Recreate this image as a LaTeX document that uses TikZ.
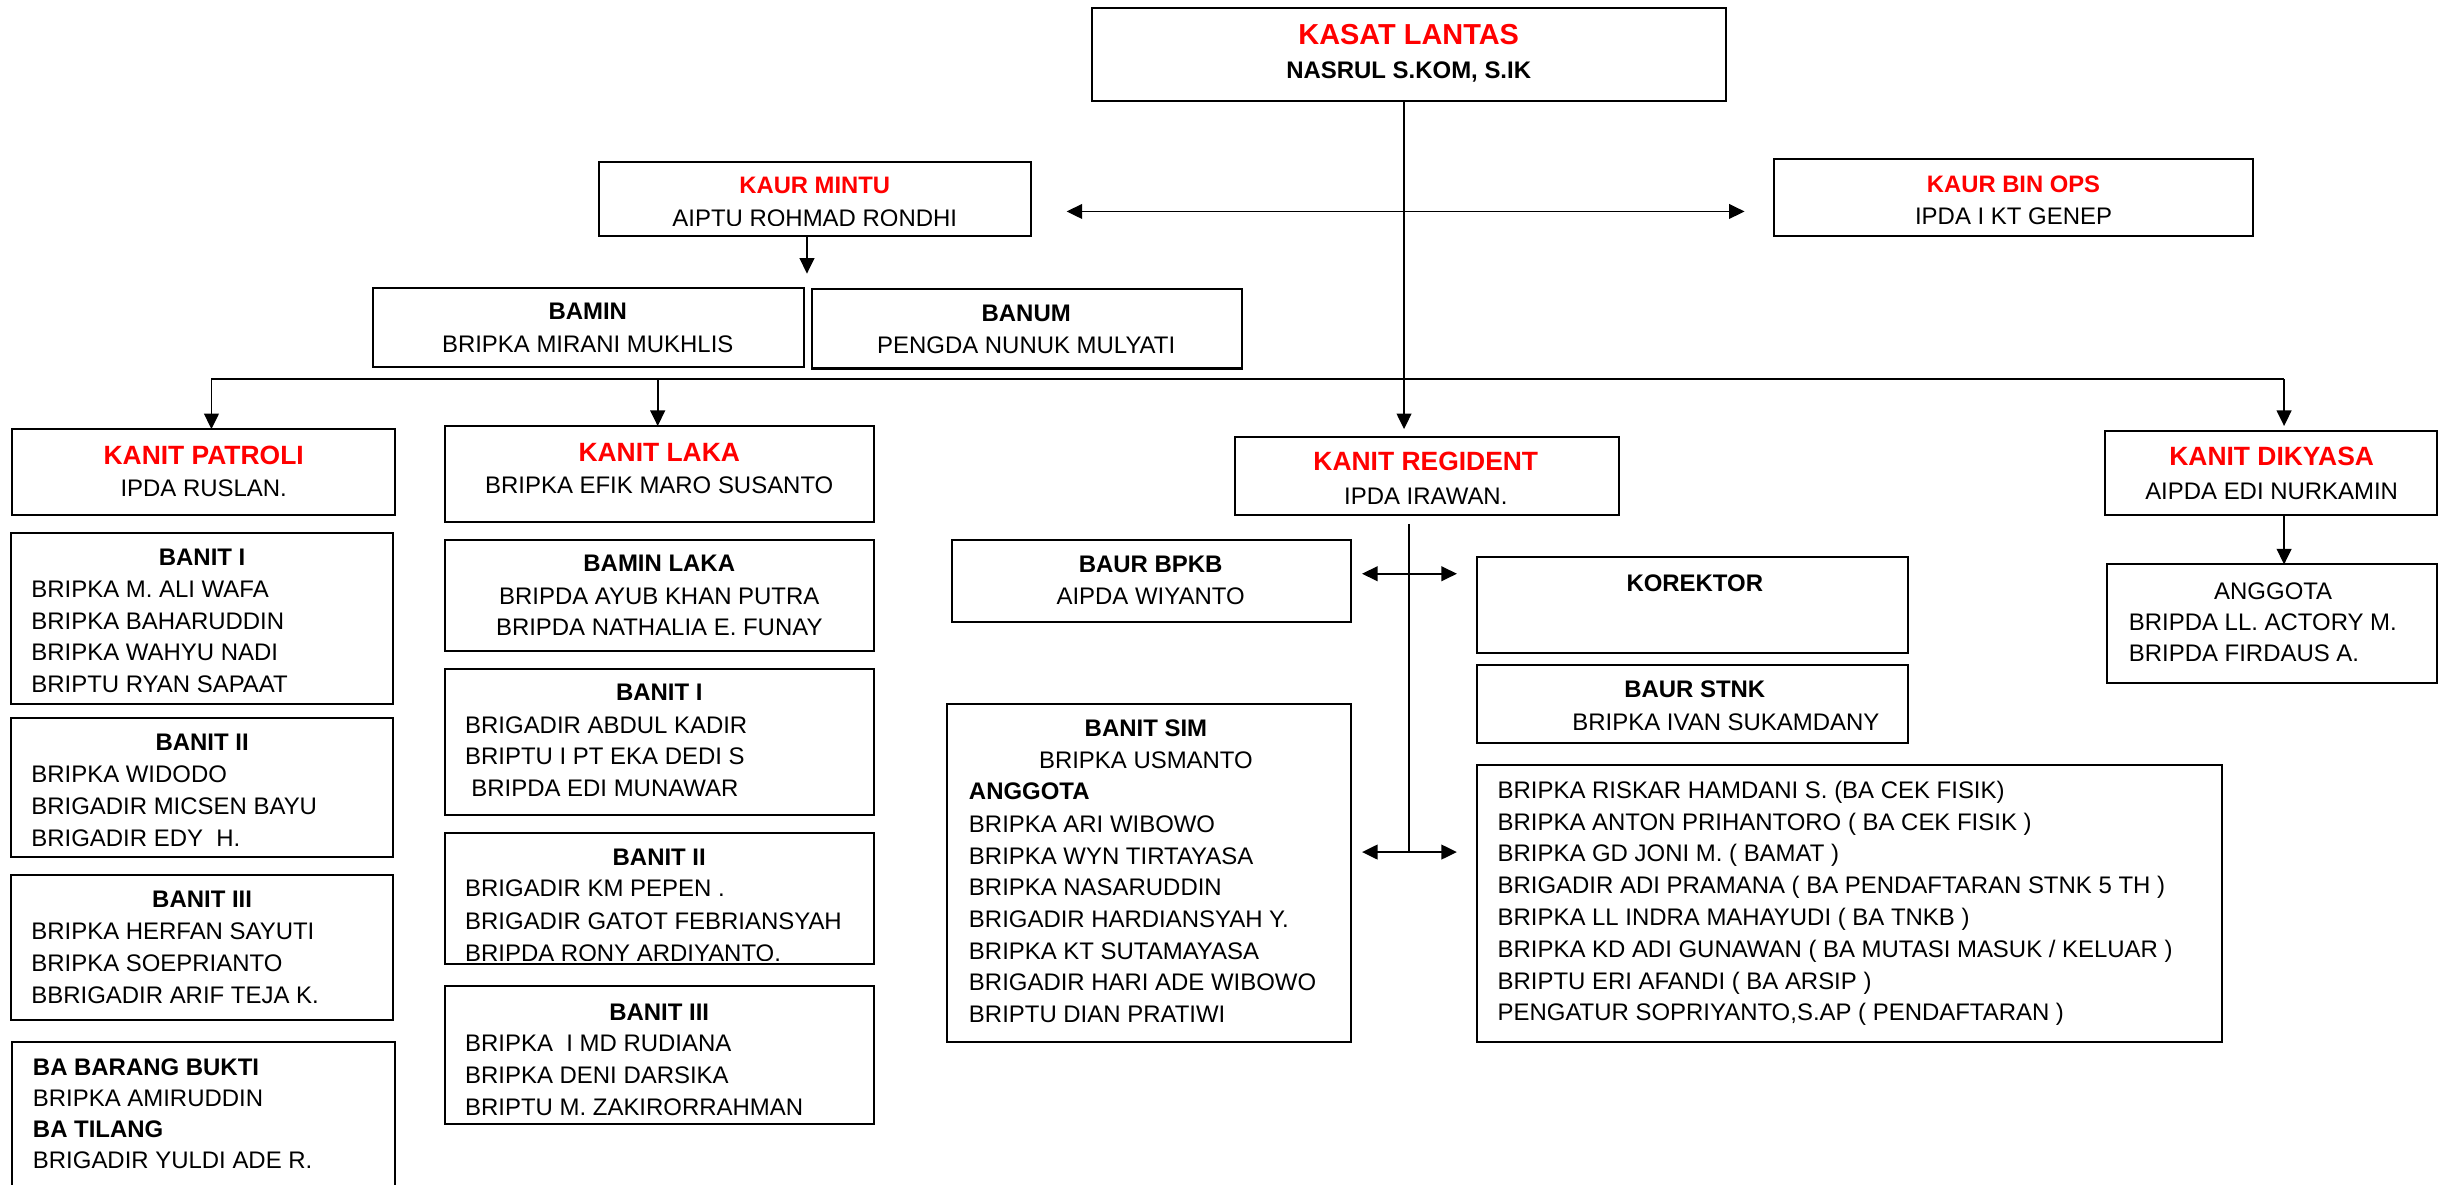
\documentclass[tikz,border=0pt]{standalone}
\usepackage{fontspec}
\setmainfont{Liberation Sans}
\usetikzlibrary{arrows.meta}
\tikzset{
 box/.style={draw, line width=1.3pt, inner sep=0pt, outer sep=0pt},
 t/.style={inner sep=0pt, font=\fontsize{15.4}{18}\selectfont},
 tb/.style={inner sep=0pt, font=\fontsize{15.4}{18}\selectfont\bfseries},
 tr/.style={inner sep=0pt, font=\fontsize{17}{20}\selectfont\bfseries, text=red},
 trs/.style={inner sep=0pt, font=\fontsize{15.3}{18}\selectfont\bfseries, text=red},
 tk/.style={inner sep=0pt, font=\fontsize{18.6}{22}\selectfont\bfseries, text=red},
 con/.style={line width=1.05pt},
 arr/.style={con, -{Triangle[length=10pt,width=9.5pt]}},
 darr/.style={con, {Triangle[length=10pt,width=9.5pt]}-{Triangle[length=10pt,width=9.5pt]}},
}
\newcommand\bx[5]{\node[box, anchor=north west, minimum width={#4-#2}, minimum height={#5-#3}] (#1) at (#2,#3) {};}
\newcommand\tc[5]{\node[#1, anchor=base] (#2) at ({#3},{#4+5.5}) {#5};}
\newcommand\tw[5]{\node[#1, anchor=base west] (#2) at ({#3},{#4+5.5}) {#5};}
\newcommand\lst[5]{\foreach[count=\i] \s in {#5} {\node[t, anchor=base west] (#1\i) at ({#2},{#3+5.5+(\i-1)*#4}) {\s};}}
\begin{document}
\begin{tikzpicture}[x=1pt,y=-1pt]
\useasboundingbox[fill=white] (0,0) rectangle (1568,762);
% top
\bx{kasat}{702}{5}{1110}{65}
\tc{tk}{kasatT}{906}{23}{KASAT LANTAS}
\tc{tb}{kasatN}{906}{45}{NASRUL S.KOM, S.IK}
\bx{mintu}{385}{104}{663}{152}
\tc{trs}{mintuT}{524}{119}{KAUR MINTU}
\begin{scope}
\clip (385,104) rectangle (663,144.8);
\tc{t}{mintuN}{524}{140}{AIPTU ROHMAD RONDHI}
\end{scope}
\bx{binops}{1141}{102}{1449}{152}
\tc{trs}{binopsT}{1295}{118}{KAUR BIN OPS}
\tc{t}{binopsN}{1295}{139}{IPDA I KT GENEP}
\bx{bamin}{240}{185}{517}{236}
\tc{tb}{baminT}{378}{200}{BAMIN}
\tc{t}{baminN}{378}{221}{BRIPKA MIRANI MUKHLIS}
\bx{banum}{522}{186}{799}{237}
\tc{tb}{banumT}{660}{201}{BANUM}
\tc{t}{banumN}{660}{222}{PENGDA NUNUK MULYATI}
% kanit row
\bx{patroli}{8}{276}{254}{331}
\tc{tr}{patroliT}{131}{293}{KANIT PATROLI}
\tc{t}{patroliN}{131}{314}{IPDA RUSLAN.}
\bx{laka}{286}{274}{562}{336}
\tc{tr}{lakaT}{424}{291}{KANIT LAKA}
\tc{t}{lakaN}{424}{312}{BRIPKA EFIK MARO SUSANTO}
\bx{regident}{794}{281}{1041}{331}
\tc{tr}{regidentT}{917}{297}{KANIT REGIDENT}
\tc{t}{regidentN}{917}{319}{IPDA IRAWAN.}
\bx{dikyasa}{1354}{277}{1567.4}{331}
\tc{tr}{dikyasaT}{1461}{294}{KANIT DIKYASA}
\tc{t}{dikyasaN}{1461}{316}{AIPDA EDI NURKAMIN}
\bx{anggota}{1355}{363}{1567.4}{439}
\tc{t}{anggotaT}{1462}{380}{ANGGOTA}
\lst{ang}{1369}{400}{20.2}{BRIPDA LL. ACTORY M., BRIPDA FIRDAUS A.}
% patroli column
\bx{p1}{7}{343}{253}{453}
\tc{tb}{p1T}{130}{358}{BANIT I}
\lst{pa}{20}{379}{20.3}{BRIPKA M. ALI WAFA, BRIPKA BAHARUDDIN, BRIPKA WAHYU NADI, BRIPTU RYAN SAPAAT}
\bx{p2}{7}{462}{253}{551}
\tc{tb}{p2T}{130}{477}{BANIT II}
\lst{pb}{20}{498}{20.5}{BRIPKA WIDODO, BRIGADIR MICSEN BAYU, BRIGADIR EDY~ H.}
\bx{p3}{7}{563}{253}{656}
\tc{tb}{p3T}{130}{578}{BANIT III}
\lst{pc}{20}{599}{20.5}{BRIPKA HERFAN SAYUTI, BRIPKA SOEPRIANTO, BBRIGADIR ARIF TEJA K.}
\bx{p4}{8}{670}{254}{766}
\tw{tb}{p4a}{21}{686}{BA BARANG BUKTI}
\tw{t}{p4b}{21}{706}{BRIPKA AMIRUDDIN}
\tw{tb}{p4c}{21}{726}{BA TILANG}
\tw{t}{p4d}{21}{746}{BRIGADIR YULDI ADE R.}
% laka column
\bx{l1}{286}{347}{562}{419}
\tc{tb}{l1T}{424}{362}{BAMIN LAKA}
\tc{t}{l1a}{424}{383}{BRIPDA AYUB KHAN PUTRA}
\tc{t}{l1b}{424}{403}{BRIPDA NATHALIA E. FUNAY}
\bx{l2}{286}{430}{562}{524}
\tc{tb}{l2T}{424}{445}{BANIT I}
\tw{t}{l2a}{299}{466}{BRIGADIR ABDUL KADIR}
\tw{t}{l2b}{299}{486}{BRIPTU I PT EKA DEDI S}
\tw{t}{l2c}{303}{507}{BRIPDA EDI MUNAWAR}
\bx{l3}{286}{536}{562}{620}
\tc{tb}{l3T}{424}{551}{BANIT II}
\tw{t}{l3a}{299}{571}{BRIGADIR KM PEPEN .}
\tw{t}{l3b}{299}{592}{BRIGADIR GATOT FEBRIANSYAH}
\begin{scope}
\clip (286,600) rectangle (562,617.5);
\tw{t}{l3c}{299}{613}{BRIPDA RONY ARDIYANTO.}
\end{scope}
\bx{l4}{286}{634}{562}{723}
\tc{tb}{l4T}{424}{651}{BANIT III}
\lst{ld}{299}{671}{20.5}{BRIPKA~ I MD RUDIANA, BRIPKA DENI DARSIKA, BRIPTU M. ZAKIRORRAHMAN}
% regident
\bx{bpkb}{612}{347}{869}{400}
\tc{tb}{bpkbT}{740}{363}{BAUR BPKB}
\tc{t}{bpkbN}{740}{383}{AIPDA WIYANTO}
\bx{korektor}{950}{358}{1227}{420}
\tc{tb}{korektorT}{1090}{375}{KOREKTOR}
\bx{stnk}{950}{428}{1227}{478}
\tc{tb}{stnkT}{1090}{443}{BAUR STNK}
\tc{t}{stnkN}{1110}{464}{BRIPKA IVAN SUKAMDANY}
\bx{stnkm}{950}{492}{1429}{670}
\lst{sm}{963}{508}{20.43}{BRIPKA RISKAR HAMDANI S. (BA CEK FISIK), BRIPKA ANTON PRIHANTORO ( BA CEK FISIK ), BRIPKA GD JONI M. ( BAMAT ), BRIGADIR ADI PRAMANA ( BA PENDAFTARAN STNK 5 TH ), BRIPKA LL INDRA MAHAYUDI ( BA TNKB ), BRIPKA KD ADI GUNAWAN ( BA MUTASI MASUK / KELUAR ), BRIPTU ERI AFANDI ( BA ARSIP ), {PENGATUR SOPRIYANTO,S.AP ( PENDAFTARAN )}}
\bx{sim}{609}{453}{869}{670}
\tc{tb}{simT}{737}{468}{BANIT SIM}
\tc{t}{simN}{737}{489}{BRIPKA USMANTO}
\tw{tb}{simA}{623}{509}{ANGGOTA}
\lst{si}{623}{530}{20.33}{BRIPKA ARI WIBOWO, BRIPKA WYN TIRTAYASA, BRIPKA NASARUDDIN, BRIGADIR HARDIANSYAH Y., BRIPKA KT SUTAMAYASA, BRIGADIR HARI ADE WIBOWO, BRIPTU DIAN PRATIWI}
% connectors
\coordinate (vx) at (903,0);
\draw[arr, shorten >=5pt] (kasat.south -| vx) -- (regident.north -| vx);
\coordinate (ma) at (686,136);
\coordinate (mb) at (1122,136);
\draw[darr] (ma) -- (mb);
\coordinate (mx) at (519,176);
\draw[arr] (mintu.south -| mx) -- (mx);
\coordinate (b1) at (136,244);
\coordinate (b2) at (423,244);
\coordinate (b3) at (1469,244);
\draw[con, line width=1.2pt] (b1) -- (b3);
\draw[arr] (b1) -- (patroli.north -| b1);
\draw[arr] (b2) -- (laka.north -| b2);
\draw[arr, shorten >=3pt] (b3) -- (dikyasa.north -| b3);
\draw[arr] (dikyasa.south -| b3) -- (anggota.north -| b3);
\coordinate (r0) at (906,337);
\coordinate (r1) at (906,548);
\draw[con] (r0) -- (r1);
\coordinate (ra) at (876,369);
\coordinate (rb) at (937,369);
\coordinate (rc) at (876,548);
\coordinate (rd) at (937,548);
\draw[darr] (ra) -- (rb);
\draw[darr] (rc) -- (rd);
\end{tikzpicture}
\end{document}
